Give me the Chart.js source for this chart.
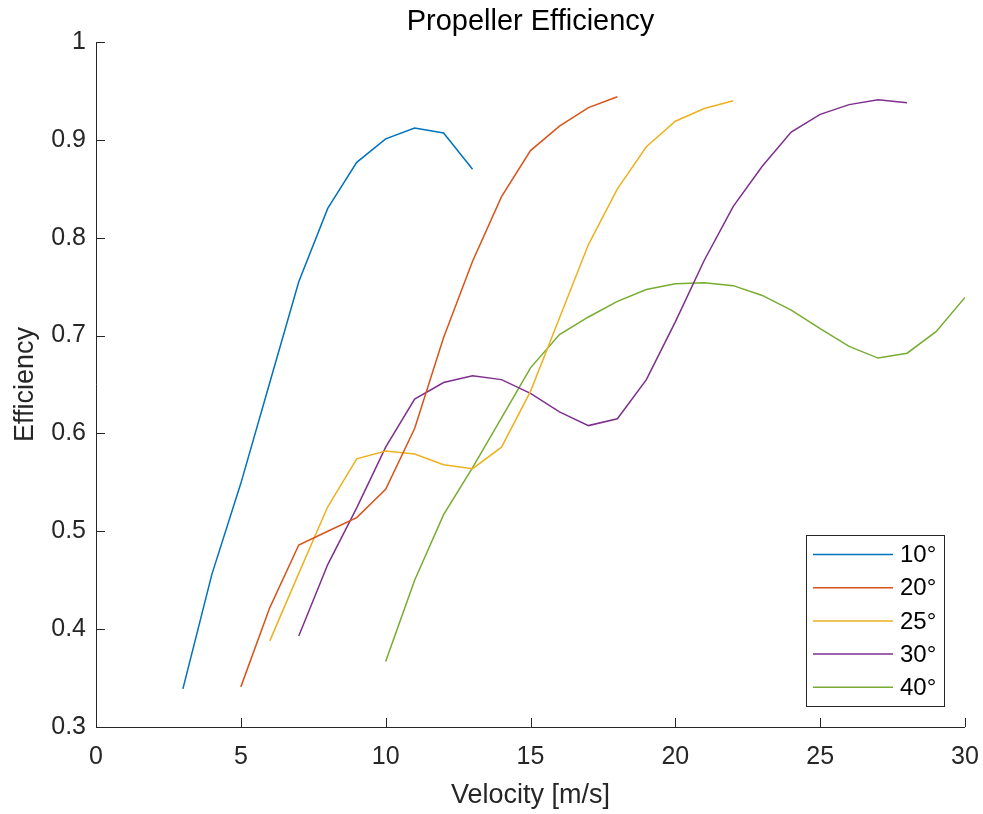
<!DOCTYPE html>
<html>
<head>
<meta charset="utf-8">
<title>Propeller Efficiency</title>
<script src="https://cdn.jsdelivr.net/npm/chart.js@4.4.1/dist/chart.umd.min.js"></script>
<style>
  html, body { margin: 0; padding: 0; background: #fff; }
  #wrap { width: 983px; height: 814px; }
</style>
</head>
<body>
<div id="wrap"><canvas id="efficiencyChart"></canvas></div>
<script>
// velocities [m/s] per pitch angle
const v10 = [3, 4, 5, 6, 7, 8, 9, 10, 11, 12, 13];
const v20 = [5, 6, 7, 8, 9, 10, 11, 12, 13, 14, 15, 16, 17, 18];
const v25 = [6, 7, 8, 9, 10, 11, 12, 13, 14, 15, 16, 17, 18, 19, 20, 21, 22];
const v30 = [7, 8, 9, 10, 11, 12, 13, 14, 15, 16, 17, 18, 19, 20, 21, 22, 23, 24, 25, 26, 27, 28];
const v40 = [10, 11, 12, 13, 14, 15, 16, 17, 18, 19, 20, 21, 22, 23, 24, 25, 26, 27, 28, 29, 30];

// efficiency
const eff10 = [0.339, 0.456, 0.549, 0.652, 0.755, 0.830, 0.877, 0.901, 0.912, 0.907, 0.870];
const eff20 = [0.341, 0.422, 0.486, 0.500, 0.514, 0.543, 0.605, 0.698, 0.776, 0.842, 0.889, 0.914, 0.933, 0.944];
const eff25 = [0.388, 0.457, 0.525, 0.574, 0.582, 0.579, 0.568, 0.564, 0.586, 0.643, 0.718, 0.793, 0.850, 0.893, 0.919, 0.932, 0.940];
const eff30 = [0.393, 0.466, 0.524, 0.586, 0.635, 0.652, 0.659, 0.655, 0.641, 0.622, 0.608, 0.615, 0.655, 0.714, 0.777, 0.832, 0.873, 0.908, 0.926, 0.936, 0.941, 0.938];
const eff40 = [0.367, 0.450, 0.517, 0.565, 0.616, 0.667, 0.701, 0.719, 0.735, 0.747, 0.753, 0.754, 0.751, 0.741, 0.726, 0.707, 0.689, 0.677, 0.682, 0.704, 0.739];

const seriesLabels = ['10°', '20°', '25°', '30°', '40°'];
const xTicks = [0, 5, 10, 15, 20, 25, 30];
const yTicks = [0.3, 0.4, 0.5, 0.6, 0.7, 0.8, 0.9, 1];

const colors = ['#0072BD', '#D95319', '#EDB120', '#7E2F8E', '#77AC30'];
const axisColor = '#262626';
const fontFamily = "'Liberation Sans', Arial, Helvetica, sans-serif";

function toPoints(xs, ys) {
    return xs.map((x, i) => ({ x: x, y: ys[i] }));
}

const allX = [v10, v20, v25, v30, v40];
const allY = [eff10, eff20, eff25, eff30, eff40];

const datasets = seriesLabels.map((lbl, i) => ({
    label: lbl,
    data: toPoints(allX[i], allY[i]),
    borderColor: colors[i],
    backgroundColor: colors[i],
    borderWidth: 1.5,
    pointRadius: 0,
    tension: 0,
    fill: false
}));

// MATLAB style axes: only left/bottom lines, ticks pointing inward,
// title centred over the axes
const axesPlugin = {
    id: 'matlabAxes',
    afterDatasetsDraw(chart) {
        const { ctx, chartArea: a, scales } = chart;
        ctx.save();
        ctx.strokeStyle = axisColor;
        ctx.lineWidth = 1;
        ctx.beginPath();
        ctx.moveTo(a.left + 0.5, a.top);
        ctx.lineTo(a.left + 0.5, a.bottom + 0.5);
        ctx.lineTo(a.right, a.bottom + 0.5);
        xTicks.forEach(t => {
            const px = Math.round(scales.x.getPixelForValue(t)) + 0.5;
            ctx.moveTo(px, a.bottom);
            ctx.lineTo(px, a.bottom - 9);
        });
        yTicks.forEach(t => {
            const py = Math.round(scales.y.getPixelForValue(t)) + 0.5;
            ctx.moveTo(a.left, py);
            ctx.lineTo(a.left + 9, py);
        });
        ctx.stroke();

        ctx.fillStyle = '#000';
        ctx.font = '29px ' + fontFamily;
        ctx.textAlign = 'center';
        ctx.textBaseline = 'middle';
        ctx.fillText('Propeller Efficiency', (a.left + a.right) / 2, 22);
        ctx.restore();
    }
};

// legend box in the lower right corner of the axes
const legendPlugin = {
    id: 'boxLegend',
    afterDraw(chart) {
        const { ctx, chartArea: a } = chart;
        const w = 138, rowH = 33.2, h = 171;
        const left = a.right - 21 - w;
        const top = a.bottom - 21 - h;
        ctx.save();
        ctx.fillStyle = '#fff';
        ctx.fillRect(left, top, w, h);
        ctx.strokeStyle = axisColor;
        ctx.lineWidth = 1;
        ctx.strokeRect(Math.round(left) + 0.5, Math.round(top) + 0.5, w, h);
        ctx.font = '24px ' + fontFamily;
        ctx.textBaseline = 'middle';
        ctx.textAlign = 'left';
        chart.data.datasets.forEach((ds, i) => {
            const y = top + 19.5 + i * rowH;
            ctx.strokeStyle = ds.borderColor;
            ctx.lineWidth = 1.5;
            ctx.beginPath();
            ctx.moveTo(left + 7, y);
            ctx.lineTo(left + 87, y);
            ctx.stroke();
            ctx.fillStyle = '#000';
            ctx.fillText(ds.label, left + 94, y + 1);
        });
        ctx.restore();
    }
};

const chart = new Chart(document.getElementById('efficiencyChart'), {
    type: 'line',
    data: { datasets: datasets },
    options: {
        responsive: true,
        maintainAspectRatio: false,
        animation: false,
        layout: { padding: { top: 42, right: 18, bottom: 0, left: 0 } },
        plugins: {
            legend: { display: false },
            tooltip: { enabled: false },
            title: { display: false }
        },
        scales: {
            x: {
                type: 'linear',
                min: 0,
                max: 30,
                afterFit: (scale) => {
                    scale.height = 87;
                    scale.paddingLeft = 0;
                    scale.paddingRight = 0;
                },
                afterBuildTicks: (scale) => { scale.ticks = xTicks.map(v => ({ value: v })); },
                grid: { display: false, drawTicks: false },
                border: { display: false },
                ticks: {
                    color: axisColor,
                    padding: 15,
                    maxRotation: 0,
                    font: { family: fontFamily, size: 25 }
                },
                title: {
                    display: true,
                    text: 'Velocity [m/s]',
                    color: axisColor,
                    font: { family: fontFamily, size: 27 },
                    padding: { top: 0, bottom: 2 }
                }
            },
            y: {
                type: 'linear',
                min: 0.3,
                max: 1,
                afterFit: (scale) => {
                    scale.width = 96;
                    scale.paddingTop = 0;
                    scale.paddingBottom = 0;
                },
                afterBuildTicks: (scale) => { scale.ticks = yTicks.map(v => ({ value: v })); },
                grid: { display: false, drawTicks: false },
                border: { display: false },
                ticks: {
                    color: axisColor,
                    padding: 10,
                    font: { family: fontFamily, size: 25 },
                    callback: (v) => String(Math.round(v * 10) / 10)
                },
                title: {
                    display: true,
                    text: 'Efficiency',
                    color: axisColor,
                    font: { family: fontFamily, size: 27 },
                    padding: { top: 9, bottom: 0 }
                }
            }
        }
    },
    plugins: [axesPlugin, legendPlugin]
});
</script>
</body>
</html>
